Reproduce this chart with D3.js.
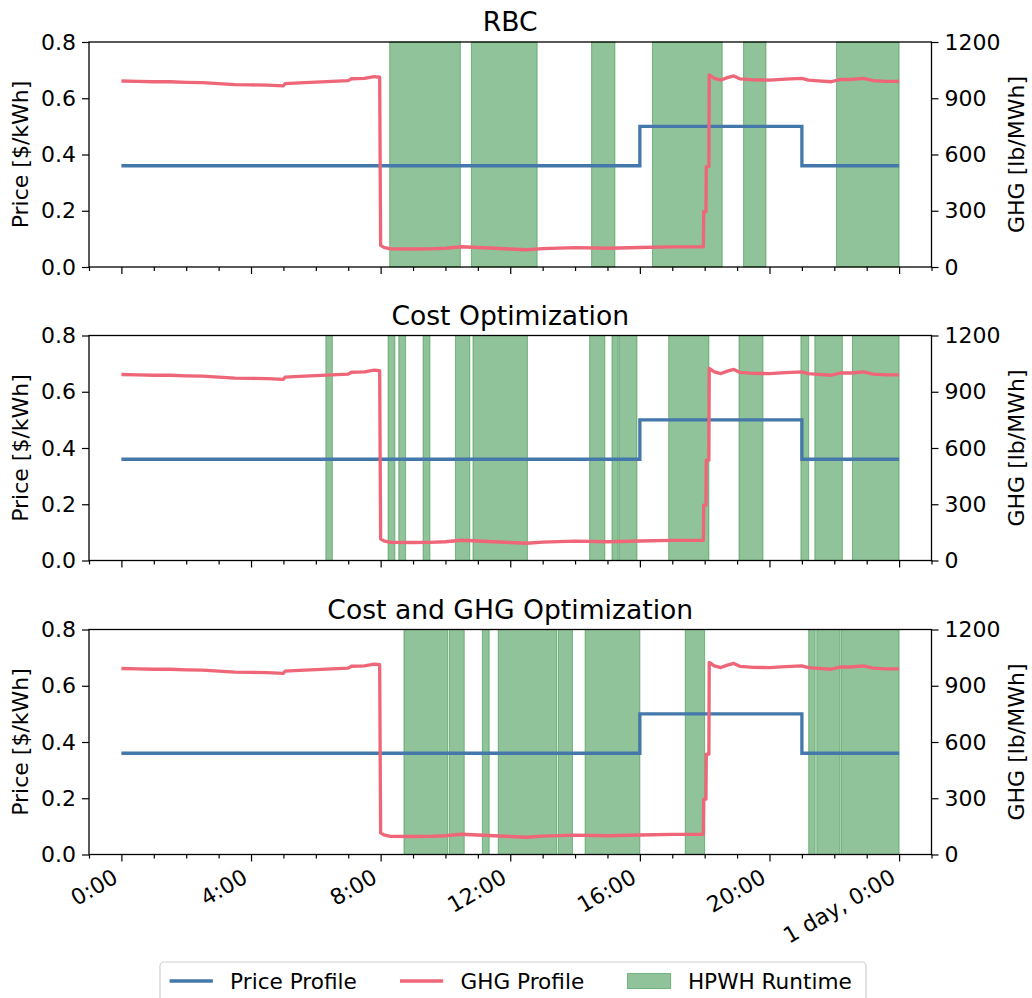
<!DOCTYPE html>
<html>
<head>
<meta charset="utf-8">
<script src="https://cdn.jsdelivr.net/npm/d3@7"></script>
<style>
  body { margin: 0; background: #fff; }
  svg { display: block; font-family: "DejaVu Sans", sans-serif; }
</style>
</head>
<body>
<svg id="chart" width="1032" height="998"></svg>
<script>
// values (time in hours)
const panelTitles = ["RBC", "Cost Optimization", "Cost and GHG Optimization"];

const priceHours = [0, 16, 21, 24];
const priceValues = [0.36, 0.5, 0.36, 0.36];

const ghgHours = [0, 0.5, 1, 1.5, 2, 2.5, 3, 3.5, 4, 4.5, 5, 5.05, 5.5, 6, 6.5, 7, 7.1, 7.5, 7.8, 7.97,
  8.0, 8.1, 8.3, 9, 9.5, 10, 10.5, 11, 11.5, 12, 12.5, 13, 14, 15, 16, 17, 17.96,
  17.97, 18.04, 18.05, 18.13, 18.14, 18.3, 18.5, 18.7, 18.9, 19.1, 19.5, 20, 20.5, 21, 21.2,
  21.5, 21.9, 22.2, 22.5, 22.9, 23.2, 23.6, 24];
const ghgValues = [992, 990, 988, 988, 985, 983, 978, 973, 971, 970, 966, 978, 982, 986, 990, 994, 1004, 1006, 1015, 1012,
  115, 105, 97, 96, 97, 100, 108, 104, 100, 96, 92, 98, 103, 100, 104, 107, 108,
  295, 295, 535, 535, 1024, 1006, 997, 1010, 1019, 1003, 998, 997, 1002, 1006, 997,
  993, 988, 1001, 1000, 1006, 994, 990, 990];

const rbcRuntime = [[8.28, 10.46], [10.80, 12.83], [14.51, 15.23], [16.39, 18.54], [19.20, 19.89], [22.07, 24.0]];
const costRuntime = [[6.31, 6.51], [8.23, 8.44], [8.56, 8.77], [9.31, 9.52], [10.31, 10.75], [10.85, 12.53],
  [14.45, 14.92], [15.14, 15.33], [15.36, 15.91], [16.89, 18.13], [19.06, 19.80], [20.97, 21.21],
  [21.40, 22.25], [22.56, 24.0]];
const costGhgRuntime = [[8.72, 10.07], [10.12, 10.58], [11.14, 11.35], [11.63, 13.43], [13.48, 13.92],
  [14.31, 16.0], [17.40, 18.0], [21.21, 21.41], [21.46, 22.18], [22.22, 24.0]];

const xMajorHours = [0, 4, 8, 12, 16, 20, 24];
const xTickLabels = ["0:00", "4:00", "8:00", "12:00", "16:00", "20:00", "1 day, 0:00"];
const priceTicks = [0, 0.2, 0.4, 0.6, 0.8];
const ghgTicks = [0, 300, 600, 900, 1200];

const legendLabels = ["Price Profile", "GHG Profile", "HPWH Runtime"];

const runtimes = [rbcRuntime, costRuntime, costGhgRuntime];
const colors = { price: "#4477AA", ghg: "#EE6677", run: "#228833" };

const svg = d3.select("#chart");
const fontSize = 22;
const panelTops = [42, 335.5, 629.5];
const panelH = 225;
const left = 89, right = 931.5;

const x = d3.scaleLinear().domain([-1, 25]).range([left, right]);
const minorHours = d3.range(-1, 26).filter(h => !xMajorHours.includes(h));

const priceData = d3.zip(priceHours, priceValues);
const ghgData = d3.zip(ghgHours, ghgValues);

function styleAxis(g) {
  g.attr("font-size", fontSize).attr("font-family", "DejaVu Sans, sans-serif");
  g.selectAll("line").attr("stroke", "#000").attr("stroke-width", 1.2);
  g.select(".domain").remove();
}

panelTitles.forEach((title, i) => {
  const top = panelTops[i];
  const bottom = top + panelH;
  const yPrice = d3.scaleLinear().domain([0, 0.8]).range([bottom, top]);
  const yGhg = d3.scaleLinear().domain([0, 1200]).range([bottom, top]);
  const g = svg.append("g");

  // HPWH runtime spans
  g.append("g").selectAll("rect")
    .data(runtimes[i])
    .join("rect")
    .attr("x", d => x(d[0]))
    .attr("width", d => x(d[1]) - x(d[0]))
    .attr("y", top)
    .attr("height", panelH)
    .attr("fill", colors.run)
    .attr("fill-opacity", 0.5)
    .attr("stroke", colors.run)
    .attr("stroke-opacity", 0.5)
    .attr("stroke-width", 1);

  g.append("path")
    .datum(priceData)
    .attr("fill", "none")
    .attr("stroke", colors.price)
    .attr("stroke-width", 3.3)
    .attr("d", d3.line().x(d => x(d[0])).y(d => yPrice(d[1])).curve(d3.curveStepAfter));

  g.append("path")
    .datum(ghgData)
    .attr("fill", "none")
    .attr("stroke", colors.ghg)
    .attr("stroke-width", 3.3)
    .attr("stroke-linejoin", "round")
    .attr("d", d3.line().x(d => x(d[0])).y(d => yGhg(d[1])));

  // frame
  g.append("rect")
    .attr("x", left).attr("y", top)
    .attr("width", right - left).attr("height", panelH)
    .attr("fill", "none").attr("stroke", "#000").attr("stroke-width", 1.3);

  g.append("g")
    .attr("transform", `translate(${left},0)`)
    .call(d3.axisLeft(yPrice).tickValues(priceTicks).tickFormat(d3.format(".1f")).tickSize(7).tickPadding(6))
    .call(styleAxis);

  g.append("g")
    .attr("transform", `translate(${right},0)`)
    .call(d3.axisRight(yGhg).tickValues(ghgTicks).tickFormat(d3.format("d")).tickSize(7).tickPadding(6))
    .call(styleAxis);

  g.append("g")
    .attr("transform", `translate(0,${bottom})`)
    .call(d3.axisBottom(x).tickValues(minorHours).tickFormat("").tickSize(4))
    .call(styleAxis);

  const xAxis = g.append("g")
    .attr("transform", `translate(0,${bottom})`)
    .call(d3.axisBottom(x).tickValues(xMajorHours)
      .tickFormat((d, k) => i === 2 ? xTickLabels[k] : "").tickSize(7))
    .call(styleAxis);

  xAxis.selectAll("text")
    .attr("y", null)
    .attr("dy", null)
    .attr("text-anchor", "end")
    .attr("transform", "translate(-2.5,27) rotate(-30)");

  g.append("text")
    .attr("x", (left + right) / 2)
    .attr("y", top - 11)
    .attr("text-anchor", "middle")
    .attr("font-size", 26.6)
    .text(title);

  g.append("text")
    .attr("transform", `translate(28,${top + panelH / 2}) rotate(-90)`)
    .attr("text-anchor", "middle")
    .attr("font-size", fontSize)
    .text("Price [$/kWh]");

  g.append("text")
    .attr("transform", `translate(1024,${top + panelH / 2}) rotate(-90)`)
    .attr("text-anchor", "middle")
    .attr("font-size", fontSize)
    .text("GHG [lb/MWh]");
});

// legend
const legendFont = 21.6;
const legend = svg.append("g").attr("font-size", legendFont);
legend.append("rect")
  .attr("x", 160).attr("y", 962)
  .attr("width", 706).attr("height", 46)
  .attr("rx", 4)
  .attr("fill", "#fff")
  .attr("stroke", "#d0d0d0")
  .attr("stroke-width", 1.2);

const handleLen = 2 * legendFont, textPad = 0.8 * legendFont, colGap = 2 * legendFont;
let lx = 160 + 0.4 * legendFont + 1;
const ly = 981;
legendLabels.forEach((label, k) => {
  if (k < 2) {
    legend.append("line")
      .attr("x1", lx).attr("x2", lx + handleLen)
      .attr("y1", ly).attr("y2", ly)
      .attr("stroke", k === 0 ? colors.price : colors.ghg)
      .attr("stroke-width", 3.3);
  } else {
    legend.append("rect")
      .attr("x", lx).attr("y", ly - 7.5)
      .attr("width", handleLen).attr("height", 15)
      .attr("fill", colors.run).attr("fill-opacity", 0.5)
      .attr("stroke", colors.run).attr("stroke-opacity", 0.5);
  }
  const t = legend.append("text")
    .attr("x", lx + handleLen + textPad)
    .attr("y", ly + 8)
    .text(label);
  lx += handleLen + textPad + t.node().getComputedTextLength() + colGap;
});
</script>
</body>
</html>
